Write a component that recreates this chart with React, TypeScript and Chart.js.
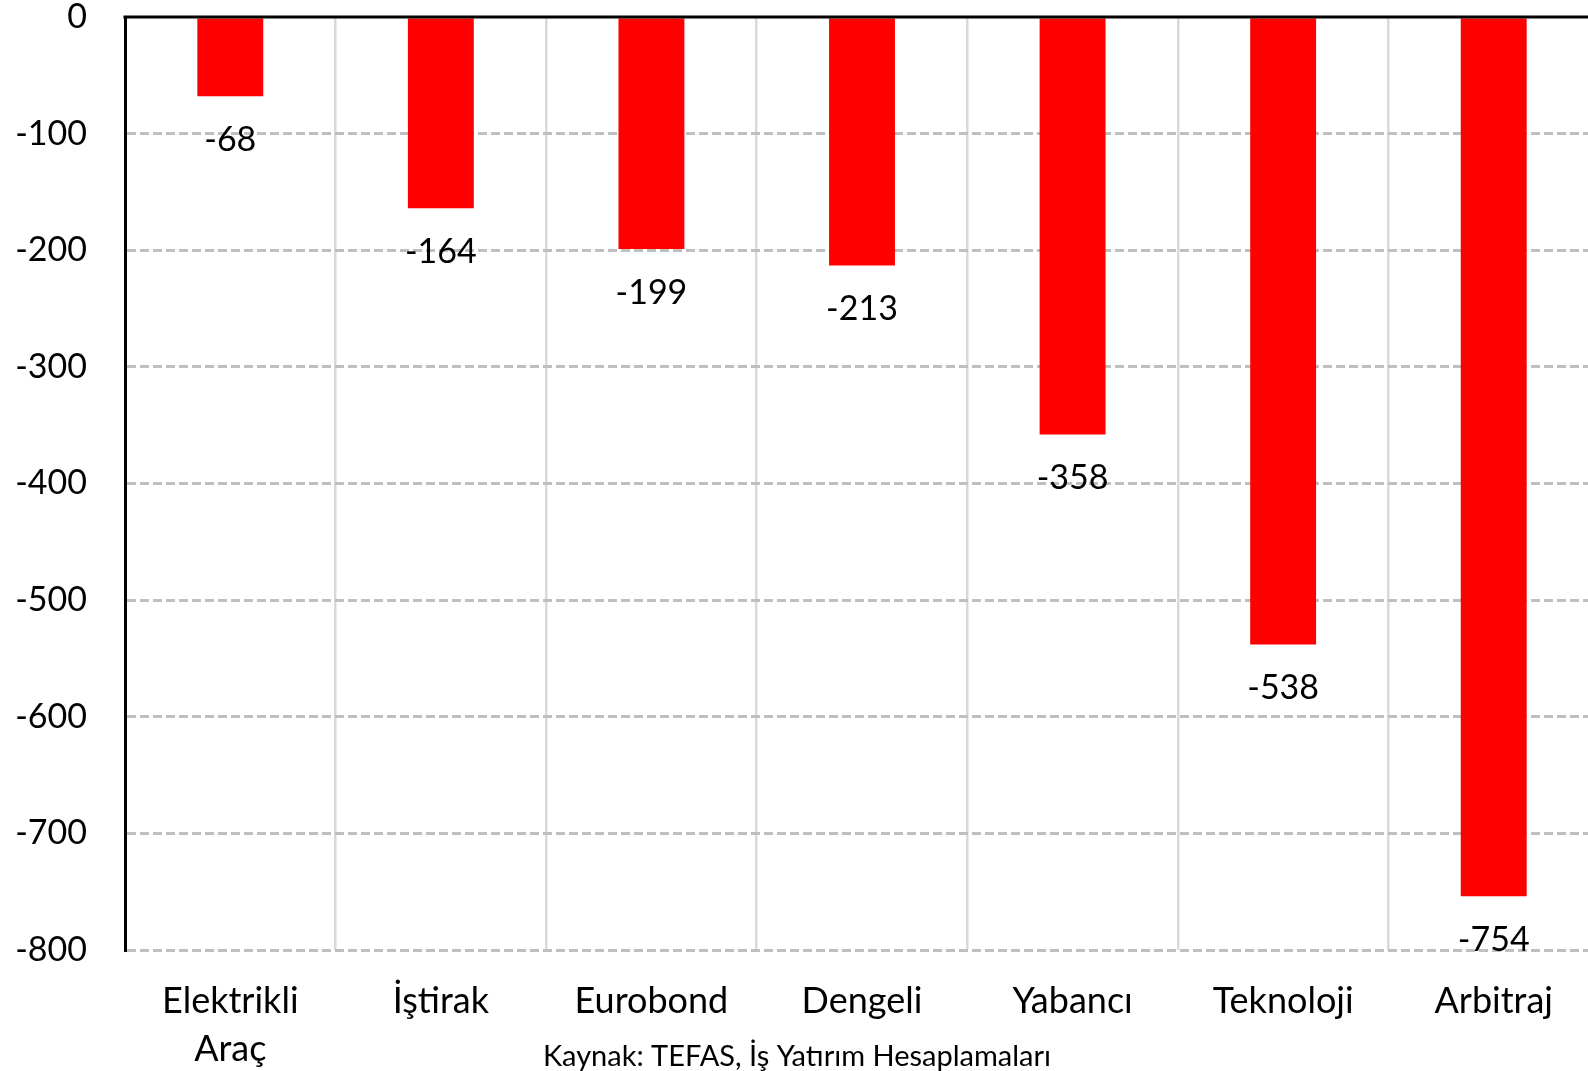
import React, { useEffect, useRef } from "react";
import { Chart, registerables } from "chart.js";

Chart.register(...registerables);

const categories: (string | string[])[] = [
  ["Elektrikli", "Araç"],
  "İştirak",
  "Eurobond",
  "Dengeli",
  "Yabancı",
  "Teknoloji",
  "Arbitraj",
];
const values: number[] = [-68, -164, -199, -213, -358, -538, -754];
const yMin = -800;
const yMax = 0;
const yStep = 100;
const sourceText = "Kaynak: TEFAS, İş Yatırım Hesaplamaları";

const FONT = "Lato";

const overlayPlugin = {
  id: "overlay",
  afterDatasetsDraw(chart: any) {
    const { ctx, chartArea } = chart;
    const yScale = chart.scales.y;
    const meta = chart.getDatasetMeta(0);
    ctx.save();
    // data labels
    ctx.fillStyle = "#000";
    ctx.font = `34px ${FONT}`;
    ctx.textAlign = "center";
    ctx.textBaseline = "middle";
    meta.data.forEach((bar: any, i: number) => {
      ctx.fillText(String(values[i]), bar.x, bar.y + 44);
    });
    // zero line
    const y0 = yScale.getPixelForValue(0);
    ctx.strokeStyle = "#000";
    ctx.lineWidth = 3;
    ctx.setLineDash([]);
    ctx.beginPath();
    ctx.moveTo(chartArea.left - 1.5, y0);
    ctx.lineTo(chartArea.right, y0);
    ctx.stroke();
    // source
    ctx.font = `29px ${FONT}`;
    ctx.fillText(sourceText, 797, 1057);
    ctx.restore();
  },
};

export default function App() {
  const ref = useRef<HTMLCanvasElement>(null);
  useEffect(() => {
    document.body.style.margin = "0";
    document.documentElement.style.overflow = "hidden";
    const chart = new Chart(ref.current!, {
      type: "bar",
      data: {
        labels: categories,
        datasets: [
          {
            data: values,
            backgroundColor: "#ff0000",
            borderWidth: 0,
            categoryPercentage: 1,
            barPercentage: 0.313,
          },
        ],
      },
      options: {
        responsive: false,
        animation: false,
        layout: { padding: { top: 17, left: 0, right: 0, bottom: 0 } },
        plugins: {
          legend: { display: false },
          tooltip: { enabled: false },
        },
        scales: {
          x: {
            grid: {
              display: true,
              offset: true,
              color: "#d9d9d9",
              lineWidth: 2.5,
              drawTicks: false,
            },
            border: { display: false },
            ticks: {
              color: "#000",
              font: { family: FONT, size: 36, lineHeight: 1.32 },
              padding: 28,
              maxRotation: 0,
              autoSkip: false,
            },
            afterFit(scale: any) {
              scale.height = 121;
              scale.paddingLeft = 0;
              scale.paddingRight = 0;
            },
          },
          y: {
            min: yMin,
            max: yMax,
            grid: {
              color: (c: any) => (c.tick && c.tick.value === 0 ? "rgba(0,0,0,0)" : "#bfbfbf"),
              lineWidth: 3,
              drawTicks: false,
            },
            border: { display: true, color: "#000", width: 3, dash: [9, 4] },
            ticks: {
              stepSize: yStep,
              color: "#000",
              font: { family: FONT, size: 34 },
              padding: 38,
            },
            afterFit(scale: any) {
              scale.width = 125;
              scale.paddingTop = 0;
              scale.paddingBottom = 0;
            },
          },
        },
      },
      plugins: [overlayPlugin],
    });
    return () => chart.destroy();
  }, []);
  return (
    <div style={{ position: "absolute", left: 0, top: 0, width: 1588, height: 1071, overflow: "hidden" }}>
      <canvas ref={ref} width={1599} height={1071} style={{ display: "block" }} />
    </div>
  );
}
